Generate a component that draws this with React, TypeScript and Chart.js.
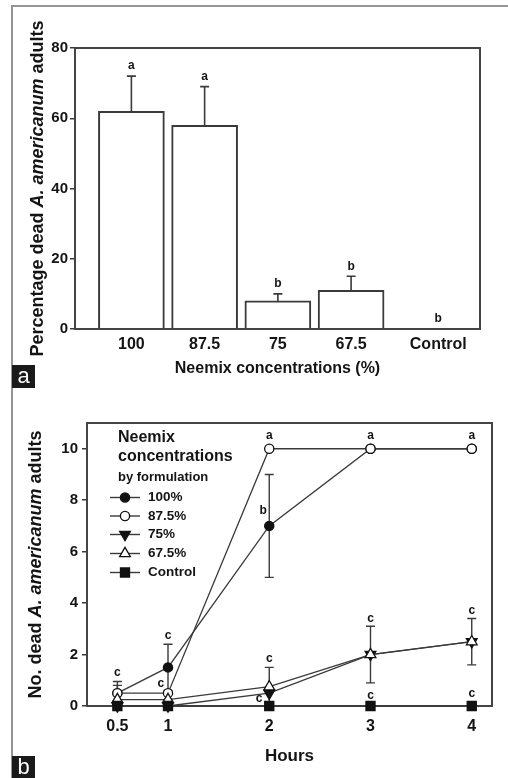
import React, { useEffect, useRef } from "react";
import { Chart, registerables } from "chart.js";

Chart.register(...registerables);

// ---------- Panel a data ----------
const barCategories = ["100", "87.5", "75", "67.5", "Control"];
const barPositions = [1, 2, 3, 4, 5.19];
const barValues = [62, 58, 8, 11, 0];
const barErrors = [10, 11, 2, 4, 0];
const barLetters = ["a", "a", "b", "b", "b"];
const barYTicks = [0, 20, 40, 60, 80];

// ---------- Panel b data ----------
const hours = [0.5, 1, 2, 3, 4];
const hourTicks = [0.5, 1, 2, 3, 4];
const s100 = [0.5, 1.5, 7, 10, 10];
const s875 = [0.5, 0.5, 10, 10, 10];
const s75 = [0, 0, 0.5, 2, 2.5];
const s675 = [0.25, 0.25, 0.75, 2, 2.5];
const sControl = [0, 0, 0, 0, 0];
const e100 = [0.45, 0.9, 2, 0, 0];
const e875 = [0.3, 0, 0, 0, 0];
const e75 = [0, 0, 0, 0, 0];
const e675 = [0, 0, 0.75, 1.1, 0.9];
const eControl = [0, 0, 0, 0, 0];
const lineYTicks = [0, 2, 4, 6, 8, 10];
const seriesLabels = ["100%", "87.5%", "75%", "67.5%", "Control"];
const letterX = [0.5, 1, 0.93, 2, 3, 4, 1.94, 2, 1.9, 3, 3, 4, 4];
const letterY = [1.3, 2.72, 0.88, 10.52, 10.52, 10.52, 7.6, 1.85, 0.3, 3.4, 0.42, 3.7, 0.49];
const letterText = ["c", "c", "c", "a", "a", "a", "b", "c", "c", "c", "c", "c", "c"];

const FONT = "'Liberation Sans', Arial, Helvetica, sans-serif";
const INK = "#141414";
const LINE = "#3a3a3a";

type Seg = { text: string; italic: boolean };

function drawRotatedTitle(ctx: CanvasRenderingContext2D, segs: Seg[], cx: number, cy: number, size: number) {
  ctx.save();
  ctx.translate(cx, cy);
  ctx.rotate(-Math.PI / 2);
  ctx.textBaseline = "middle";
  ctx.textAlign = "left";
  ctx.fillStyle = INK;
  const fonts = segs.map((s) => `${s.italic ? "italic " : ""}bold ${size}px ${FONT}`);
  let total = 0;
  const widths = segs.map((s, i) => {
    ctx.font = fonts[i];
    const w = ctx.measureText(s.text).width;
    total += w;
    return w;
  });
  let x = -total / 2;
  segs.forEach((s, i) => {
    ctx.font = fonts[i];
    ctx.fillText(s.text, x, 0);
    x += widths[i];
  });
  ctx.restore();
}

function drawMarker(ctx: CanvasRenderingContext2D, style: string, x: number, y: number, r: number, fill: string, rot: number) {
  ctx.save();
  ctx.fillStyle = fill;
  ctx.strokeStyle = "#111";
  ctx.lineWidth = 1.3;
  ctx.beginPath();
  if (style === "circle") {
    ctx.arc(x, y, r, 0, Math.PI * 2);
  } else if (style === "rect") {
    const h = r * Math.SQRT1_2;
    ctx.rect(x - h, y - h, 2 * h, 2 * h);
  } else {
    let a = (rot * Math.PI) / 180;
    for (let k = 0; k < 3; k++) {
      const px = x + Math.sin(a) * r;
      const py = y - Math.cos(a) * r;
      if (k === 0) ctx.moveTo(px, py);
      else ctx.lineTo(px, py);
      a += (2 * Math.PI) / 3;
    }
    ctx.closePath();
  }
  ctx.fill();
  ctx.stroke();
  ctx.restore();
}

const pointStyles = [
  { style: "circle", r: 4.6, fill: "#111", rot: 0 },
  { style: "circle", r: 4.6, fill: "#fff", rot: 0 },
  { style: "triangle", r: 6.2, fill: "#111", rot: 180 },
  { style: "triangle", r: 6.2, fill: "#fff", rot: 0 },
  { style: "rect", r: 6.4, fill: "#111", rot: 0 },
];

export default function App() {
  const refA = useRef<HTMLCanvasElement | null>(null);
  const refB = useRef<HTMLCanvasElement | null>(null);

  useEffect(() => {
    if (!refA.current || !refB.current) return;

    const tickFont = (size: number) => ({ family: FONT, size, weight: "bold" as const });

    const panelAPlugin = {
      id: "panelA",
      afterDatasetsDraw(chart: any) {
        const { ctx, chartArea: ca } = chart;
        const xs = chart.scales.x;
        const ys = chart.scales.y;
        ctx.save();
        ctx.strokeStyle = LINE;
        ctx.lineWidth = 1.6;
        ctx.fillStyle = INK;
        ctx.font = `bold 12px ${FONT}`;
        ctx.textAlign = "center";
        ctx.textBaseline = "middle";
        barPositions.forEach((p, i) => {
          const px = xs.getPixelForValue(p);
          const y0 = ys.getPixelForValue(barValues[i]);
          const y1 = ys.getPixelForValue(barValues[i] + barErrors[i]);
          if (barErrors[i] > 0) {
            ctx.beginPath();
            ctx.moveTo(px, y0);
            ctx.lineTo(px, y1);
            ctx.moveTo(px - 4.5, y1);
            ctx.lineTo(px + 4.5, y1);
            ctx.stroke();
          }
          ctx.fillText(barLetters[i], px, y1 - 10);
        });
        ctx.lineWidth = 2;
        ctx.strokeStyle = "#444";
        ctx.strokeRect(ca.left, ca.top, ca.right - ca.left, ca.bottom - ca.top);
        ctx.restore();
        drawRotatedTitle(
          ctx,
          [
            { text: "Percentage dead ", italic: false },
            { text: "A. americanum", italic: true },
            { text: " adults", italic: false },
          ],
          38,
          (ca.top + ca.bottom) / 2,
          18
        );
      },
    };

    const chartA = new Chart(refA.current, {
      type: "bar",
      data: {
        datasets: [
          {
            data: barPositions.map((x, i) => ({ x, y: barValues[i] })),
            backgroundColor: "#fff",
            borderColor: LINE,
            borderWidth: 2,
            barThickness: 66,
          } as any,
        ],
      },
      options: {
        animation: false,
        responsive: false,
        devicePixelRatio: 1,
        layout: { padding: { left: 0, right: 28, top: 48, bottom: 0 } },
        plugins: { legend: { display: false }, tooltip: { enabled: false } },
        scales: {
          x: {
            type: "linear",
            min: 0.23,
            max: 5.76,
            offset: false,
            grid: { display: false, drawTicks: false },
            border: { display: false },
            afterBuildTicks: (s: any) => {
              s.ticks = barPositions.map((v) => ({ value: v }));
            },
            ticks: {
              callback: (_v: any, i: number) => barCategories[i],
              font: tickFont(16),
              color: INK,
              padding: 6,
              maxRotation: 0,
              autoSkip: false,
            },
            title: {
              display: true,
              text: "Neemix concentrations (%)",
              font: tickFont(16),
              color: INK,
              padding: { top: 0, bottom: 12 },
            },
            afterFit: (s: any) => {
              s.height = 61;
            },
          },
          y: {
            type: "linear",
            min: 0,
            max: 80,
            afterBuildTicks: (s: any) => {
              s.ticks = barYTicks.map((v) => ({ value: v }));
            },
            ticks: { font: tickFont(15), color: INK, padding: 2 },
            grid: { drawOnChartArea: false, drawTicks: true, tickLength: 5, color: LINE, lineWidth: 1.5 },
            border: { display: false },
            afterFit: (s: any) => {
              s.width = 75;
            },
          },
        },
      } as any,
      plugins: [panelAPlugin],
    });

    const seriesValues = [s100, s875, s75, s675, sControl];
    const seriesErrors = [e100, e875, e75, e675, eControl];

    const panelBPlugin = {
      id: "panelB",
      beforeDatasetsDraw(chart: any) {
        const { ctx, chartArea: ca } = chart;
        const xs = chart.scales.x;
        const ys = chart.scales.y;
        ctx.save();
        ctx.lineWidth = 2;
        ctx.strokeStyle = "#444";
        ctx.strokeRect(ca.left, ca.top, ca.right - ca.left, ca.bottom - ca.top);
        ctx.strokeStyle = LINE;
        ctx.lineWidth = 1.4;
        seriesErrors.forEach((errs, si) => {
          errs.forEach((e, i) => {
            if (e <= 0) return;
            const v = seriesValues[si][i];
            const px = xs.getPixelForValue(hours[i]);
            const yTop = ys.getPixelForValue(v + e);
            const yBot = ys.getPixelForValue(Math.max(0, v - e));
            ctx.beginPath();
            ctx.moveTo(px, yBot);
            ctx.lineTo(px, yTop);
            ctx.moveTo(px - 4.5, yTop);
            ctx.lineTo(px + 4.5, yTop);
            if (v - e > 0) {
              ctx.moveTo(px - 4.5, yBot);
              ctx.lineTo(px + 4.5, yBot);
            }
            ctx.stroke();
          });
        });
        ctx.restore();
      },
      afterDatasetsDraw(chart: any) {
        const { ctx, chartArea: ca } = chart;
        const xs = chart.scales.x;
        const ys = chart.scales.y;
        ctx.save();
        ctx.fillStyle = INK;
        ctx.font = `bold 12px ${FONT}`;
        ctx.textAlign = "center";
        ctx.textBaseline = "middle";
        letterText.forEach((t, i) => {
          ctx.fillText(t, xs.getPixelForValue(letterX[i]), ys.getPixelForValue(letterY[i]));
        });
        // legend
        ctx.textAlign = "left";
        ctx.font = `bold 16px ${FONT}`;
        ctx.fillText("Neemix", 118, 48);
        ctx.fillText("concentrations", 118, 66.7);
        ctx.font = `bold 13px ${FONT}`;
        ctx.fillText("by formulation", 118, 87.5);
        const rows = [107.5, 126, 144.5, 163.5, 182.5];
        ctx.font = `bold 13.5px ${FONT}`;
        seriesLabels.forEach((lab, i) => {
          const y = rows[i];
          ctx.strokeStyle = LINE;
          ctx.lineWidth = 1.4;
          ctx.beginPath();
          ctx.moveTo(110, y);
          ctx.lineTo(140, y);
          ctx.stroke();
          const ps = pointStyles[i];
          drawMarker(ctx, ps.style, 125, y, ps.r, ps.fill, ps.rot);
          ctx.fillStyle = INK;
          ctx.fillText(lab, 148, y);
        });
        ctx.restore();
        drawRotatedTitle(
          ctx,
          [
            { text: "No. dead ", italic: false },
            { text: "A. americanum", italic: true },
            { text: " adults", italic: false },
          ],
          36,
          (ca.top + ca.bottom) / 2,
          18
        );
      },
    };

    const orders = [4, 3, 2, 1, 0];
    const chartB = new Chart(refB.current, {
      type: "line",
      data: {
        datasets: seriesValues.map((vals, si) => ({
          label: seriesLabels[si],
          data: hours.map((h, i) => ({ x: h, y: vals[i] })),
          borderColor: LINE,
          borderWidth: 1.3,
          pointStyle: pointStyles[si].style,
          pointRadius: pointStyles[si].r,
          pointRotation: pointStyles[si].rot,
          pointBackgroundColor: pointStyles[si].fill,
          pointBorderColor: "#111",
          pointBorderWidth: 1.3,
          fill: false,
          tension: 0,
          clip: false,
          order: orders[si],
        })) as any,
      },
      options: {
        animation: false,
        responsive: false,
        devicePixelRatio: 1,
        layout: { padding: { left: 0, right: 16, top: 33, bottom: 0 } },
        plugins: { legend: { display: false }, tooltip: { enabled: false } },
        scales: {
          x: {
            type: "linear",
            min: 0.2,
            max: 4.2,
            grid: { display: false, drawTicks: false },
            border: { display: false },
            afterBuildTicks: (s: any) => {
              s.ticks = hourTicks.map((v) => ({ value: v }));
            },
            ticks: {
              callback: (_v: any, i: number) => String(hourTicks[i]),
              font: tickFont(16),
              color: INK,
              padding: 11,
              maxRotation: 0,
              autoSkip: false,
            },
            title: {
              display: true,
              text: "Hours",
              font: tickFont(17),
              color: INK,
              padding: { top: 0, bottom: 11 },
            },
            afterFit: (s: any) => {
              s.height = 72;
            },
          },
          y: {
            type: "linear",
            min: 0,
            max: 11,
            afterBuildTicks: (s: any) => {
              s.ticks = lineYTicks.map((v) => ({ value: v }));
            },
            ticks: { font: tickFont(15), color: INK, padding: 4 },
            grid: { drawOnChartArea: false, drawTicks: true, tickLength: 5, color: LINE, lineWidth: 1.5 },
            border: { display: false },
            afterFit: (s: any) => {
              s.width = 87;
            },
          },
        },
      } as any,
      plugins: [panelBPlugin],
    });

    return () => {
      chartA.destroy();
      chartB.destroy();
    };
  }, []);

  const box: React.CSSProperties = {
    position: "absolute",
    left: 12,
    width: 23,
    height: 23,
    background: "#1a1a1a",
    color: "#fff",
    font: `22px ${FONT}`,
    lineHeight: "21px",
    textAlign: "center",
  };

  return (
    <div style={{ position: "absolute", left: 0, top: 0, width: 508, height: 778, background: "#fff", overflow: "hidden" }}>
      <canvas ref={refA} width={508} height={390} style={{ position: "absolute", left: 0, top: 0, width: 508, height: 390 }} />
      <canvas ref={refB} width={508} height={388} style={{ position: "absolute", left: 0, top: 390, width: 508, height: 388 }} />
      <div style={{ position: "absolute", left: 11, top: 5, width: 497, height: 2, background: "#959595" }} />
      <div style={{ position: "absolute", left: 11, top: 5, width: 2, height: 773, background: "#959595" }} />
      <div style={{ ...box, top: 365 }}>a</div>
      <div style={{ ...box, top: 756, height: 22 }}>b</div>
    </div>
  );
}
